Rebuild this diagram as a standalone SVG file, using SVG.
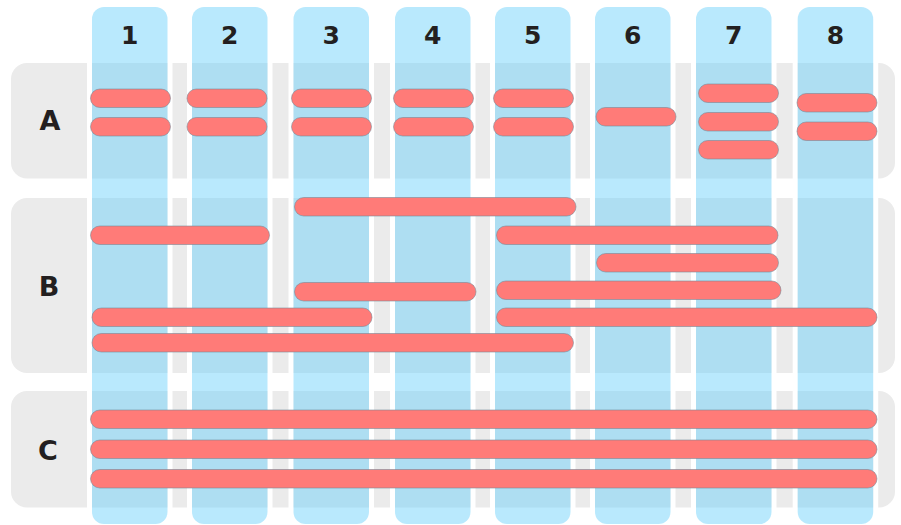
<svg xmlns="http://www.w3.org/2000/svg" width="901" height="525" viewBox="0 0 901 525">
<style>
.band{fill:#ebebeb}
.gap{fill:none;stroke:#ffffff;stroke-width:5}
.col{fill:rgb(99,206,250);fill-opacity:0.45}
.bar{fill:#ff7b78;stroke:#6f8796;stroke-opacity:0.55;stroke-width:1}
.lbl{font-family:"DejaVu Sans","Liberation Sans",sans-serif;font-weight:bold;fill:#231f20;text-anchor:middle}
</style>
<rect width="901" height="525" fill="#ffffff"/>
<g id="rows">
<g id="row-A"><rect class="band" x="11" y="63" width="884" height="115.5" rx="16"/><text class="lbl" x="50" y="130" font-size="27">A</text></g>
<g id="row-B"><rect class="band" x="11" y="198" width="884" height="175" rx="16"/><text class="lbl" x="49" y="295.5" font-size="27">B</text></g>
<g id="row-C"><rect class="band" x="11" y="391" width="884" height="116.5" rx="16"/><text class="lbl" x="48" y="460" font-size="27">C</text></g>
</g>
<g id="gaps">
<rect class="gap" x="89.5" y="-10" width="80.5" height="545"/>
<rect class="gap" x="189.5" y="-10" width="80.5" height="545"/>
<rect class="gap" x="291" y="-10" width="80.5" height="545"/>
<rect class="gap" x="392.5" y="-10" width="80.5" height="545"/>
<rect class="gap" x="492.5" y="-10" width="80.5" height="545"/>
<rect class="gap" x="592.5" y="-10" width="80.5" height="545"/>
<rect class="gap" x="693.5" y="-10" width="80.5" height="545"/>
<rect class="gap" x="795.2" y="-10" width="80.5" height="545"/>
</g>
<g id="columns">
<g id="col-1"><rect class="col" x="92" y="7" width="75.5" height="517" rx="12"/><text class="lbl" x="129.7" y="44" font-size="25">1</text></g>
<g id="col-2"><rect class="col" x="192" y="7" width="75.5" height="517" rx="12"/><text class="lbl" x="229.7" y="44" font-size="25">2</text></g>
<g id="col-3"><rect class="col" x="293.5" y="7" width="75.5" height="517" rx="12"/><text class="lbl" x="331.2" y="44" font-size="25">3</text></g>
<g id="col-4"><rect class="col" x="395" y="7" width="75.5" height="517" rx="12"/><text class="lbl" x="432.7" y="44" font-size="25">4</text></g>
<g id="col-5"><rect class="col" x="495" y="7" width="75.5" height="517" rx="12"/><text class="lbl" x="532.7" y="44" font-size="25">5</text></g>
<g id="col-6"><rect class="col" x="595" y="7" width="75.5" height="517" rx="12"/><text class="lbl" x="632.7" y="44" font-size="25">6</text></g>
<g id="col-7"><rect class="col" x="696" y="7" width="75.5" height="517" rx="12"/><text class="lbl" x="733.7" y="44" font-size="25">7</text></g>
<g id="col-8"><rect class="col" x="797.7" y="7" width="75.5" height="517" rx="12"/><text class="lbl" x="835.4" y="44" font-size="25">8</text></g>
</g>
<g id="bars">
<rect class="bar" x="90.5" y="89" width="80" height="18.5" rx="9.25"/>
<rect class="bar" x="90.5" y="117.5" width="80" height="18.5" rx="9.25"/>
<rect class="bar" x="187" y="89" width="80" height="18.5" rx="9.25"/>
<rect class="bar" x="187" y="117.5" width="80" height="18.5" rx="9.25"/>
<rect class="bar" x="291.5" y="89" width="80" height="18.5" rx="9.25"/>
<rect class="bar" x="291.5" y="117.5" width="80" height="18.5" rx="9.25"/>
<rect class="bar" x="393.5" y="89" width="80" height="18.5" rx="9.25"/>
<rect class="bar" x="393.5" y="117.5" width="80" height="18.5" rx="9.25"/>
<rect class="bar" x="493.5" y="89" width="80" height="18.5" rx="9.25"/>
<rect class="bar" x="493.5" y="117.5" width="80" height="18.5" rx="9.25"/>
<rect class="bar" x="596" y="107.5" width="80" height="18.5" rx="9.25"/>
<rect class="bar" x="698.5" y="84" width="80" height="18.5" rx="9.25"/>
<rect class="bar" x="698.5" y="112.5" width="80" height="18.5" rx="9.25"/>
<rect class="bar" x="698.5" y="140.5" width="80" height="18.5" rx="9.25"/>
<rect class="bar" x="797" y="93.5" width="80" height="18.5" rx="9.25"/>
<rect class="bar" x="797" y="122" width="80" height="18.5" rx="9.25"/>
<rect class="bar" x="294.5" y="197.5" width="281.5" height="18.5" rx="9.25"/>
<rect class="bar" x="90.5" y="226" width="179" height="18.5" rx="9.25"/>
<rect class="bar" x="496.5" y="226" width="281.5" height="18.5" rx="9.25"/>
<rect class="bar" x="596.5" y="253.5" width="182" height="18.5" rx="9.25"/>
<rect class="bar" x="294.5" y="282.5" width="181.5" height="18.5" rx="9.25"/>
<rect class="bar" x="496.5" y="281" width="284.5" height="18.5" rx="9.25"/>
<rect class="bar" x="92" y="308" width="280" height="18.5" rx="9.25"/>
<rect class="bar" x="496.5" y="308" width="380.5" height="18.5" rx="9.25"/>
<rect class="bar" x="92" y="333.5" width="481.5" height="18.5" rx="9.25"/>
<rect class="bar" x="90.5" y="410" width="786.5" height="18.5" rx="9.25"/>
<rect class="bar" x="90.5" y="440" width="786.5" height="18.5" rx="9.25"/>
<rect class="bar" x="90.5" y="469.5" width="786.5" height="18.5" rx="9.25"/>
</g>
</svg>
